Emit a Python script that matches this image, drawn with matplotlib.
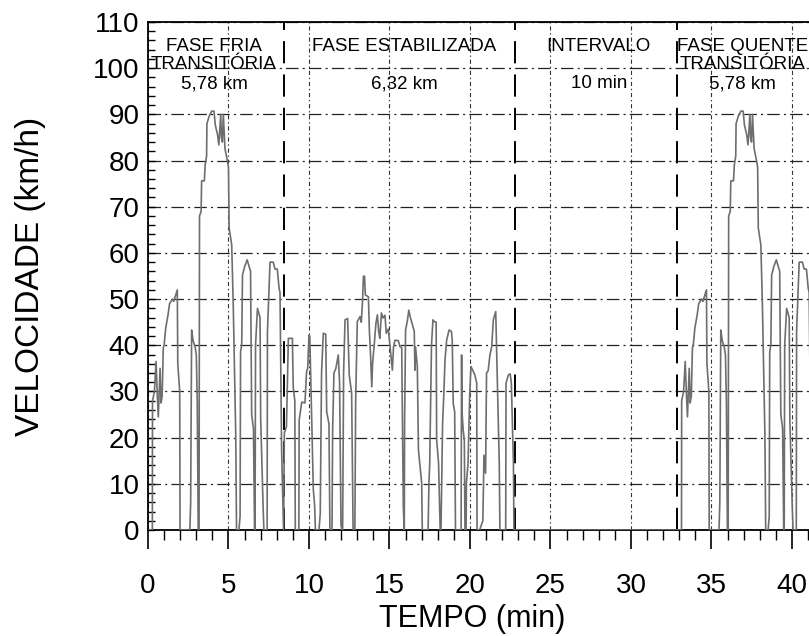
import matplotlib
matplotlib.use('Agg')
import matplotlib.pyplot as plt
from matplotlib.ticker import MultipleLocator

plt.rcParams['font.family'] = ['Liberation Sans', 'DejaVu Sans']
plt.rcParams['lines.scale_dashes'] = False

# velocidade (km/h) x tempo (min) - ciclo FTP-75
fase1_t = [0, 0.27, 0.28, 0.40, 0.50, 0.58, 0.64, 0.75, 0.81, 0.88,
           0.95, 1.00, 1.10, 1.24, 1.34, 1.52, 1.60, 1.82, 1.85, 1.97,
           1.99, 2.60, 2.65, 2.71, 2.80, 2.92, 3.00, 3.06, 3.12, 3.17,
           3.20, 3.30, 3.33, 3.50, 3.55, 3.64, 3.66, 3.80, 3.96, 4.10,
           4.18, 4.32, 4.40, 4.45, 4.52, 4.56, 4.62, 4.68, 4.78, 4.94,
           5.00, 5.04, 5.20, 5.30, 5.45, 5.50, 5.65, 5.72, 5.75, 5.82,
           5.87, 6.00, 6.16, 6.37, 6.44, 6.55, 6.62, 6.65, 6.68, 6.80,
           6.96, 7.00, 7.15, 7.20, 7.40, 7.42, 7.58, 7.78, 7.89, 8.03,
           8.14, 8.20, 8.30, 8.42]
fase1_v = [0, 0, 28, 30, 36.5, 29, 24.5, 35, 27.5, 29,
           39.5, 40, 43.7, 46.5, 49, 50, 49.5, 52, 36, 30,
           0, 0, 6, 43.3, 41, 39.7, 38, 27.7, 0, 0,
           68, 69, 75.6, 75.6, 79, 81, 88, 89.6, 90.7, 90.7,
           87.7, 85.6, 83.4, 86.3, 90, 85, 84, 90, 82.6, 79.8,
           78.5, 65.4, 61.7, 48, 20.6, 0, 0, 3, 38.6, 40,
           55.2, 57, 58.5, 56, 25, 22, 0, 0, 40, 48,
           46, 24, 5, 0, 0, 43, 58, 58, 56.5, 56.5,
           52.4, 51.4, 17.3, 0]

fase2_t = [8.42, 8.47, 8.60, 8.72, 8.97, 9.02, 9.12, 9.15, 9.37, 9.39,
           9.55, 9.75, 9.85, 9.92, 10.00, 10.05, 10.27, 10.35, 10.40, 10.62,
           10.70, 10.78, 10.89, 11.04, 11.10, 11.24, 11.30, 11.43, 11.47, 11.55,
           11.67, 11.82, 11.90, 11.99, 12.06, 12.09, 12.15, 12.24, 12.40, 12.50,
           12.65, 12.74, 12.85, 12.90, 13.00, 13.17, 13.25, 13.33, 13.38, 13.45,
           13.50, 13.69, 13.75, 13.83, 13.90, 13.95, 14.06, 14.16, 14.25, 14.33,
           14.40, 14.50, 14.60, 14.72, 14.80, 14.93, 15.03, 15.10, 15.18, 15.25,
           15.34, 15.55, 15.65, 15.76, 15.86, 15.92, 15.94, 16.00, 16.12, 16.20,
           16.30, 16.54, 16.58, 16.62, 16.73, 16.80, 17.00, 17.04, 17.40, 17.45,
           17.50, 17.61, 17.70, 17.80, 17.90, 17.93, 18.05, 18.15, 18.20, 18.30,
           18.37, 18.45, 18.55, 18.70, 18.85, 18.90, 18.96, 19.05, 19.10, 19.45,
           19.48, 19.50, 19.58, 19.65, 19.69, 19.76, 19.78, 19.88, 19.98, 20.06,
           20.20, 20.30, 20.42, 20.44, 20.60, 20.80, 20.87, 20.97, 21.03, 21.13,
           21.24, 21.35, 21.45, 21.60, 21.82, 21.86, 22.22, 22.24, 22.39, 22.50,
           22.57, 22.70, 22.73, 32.87]
fase2_v = [0, 21, 22.4, 41.5, 41.5, 31, 28, 0, 0, 23.8,
           27.7, 27.5, 34.3, 35, 42.2, 42, 8.7, 5.4, 0, 0,
           3.5, 34, 42.6, 42.4, 25.6, 23, 0, 0, 21.7, 34,
           35, 37.9, 32, 1, 0, 0, 34, 45.5, 45.8, 33.6,
           29.6, 0, 0, 28, 45.1, 46.2, 45, 49.8, 54.9, 55,
           50.9, 50.5, 43.3, 37.5, 31, 36, 40.4, 44.8, 46.6, 43,
           41.5, 47, 45.9, 46.5, 42.6, 43.5, 40, 37.5, 34.6, 39.6,
           41.1, 41, 39.7, 39.5, 5, 0, 23.8, 43.3, 45.5, 47.6,
           46, 43, 34.6, 39.6, 35.4, 17.3, 10.2, 0, 0, 10,
           14.4, 40, 45.5, 45.1, 45, 19.5, 14.4, 0, 0, 23.1,
           28.9, 36.8, 41.1, 43.3, 43, 41, 27.4, 25.6, 0, 0,
           37.9, 26, 21.6, 19.5, 0, 0, 10.2, 14.4, 28.9, 35.4,
           34.4, 33.6, 31.8, 0, 0, 2, 16.2, 12.3, 34, 34.5,
           37.9, 39.7, 45.5, 47.3, 14.4, 0, 0, 31.8, 33.6, 33.8,
           31.8, 14.4, 0, 0]

fase3_t = [32.87, 33.14, 33.15, 33.27, 33.37, 33.45, 33.51, 33.62, 33.68, 33.75,
           33.82, 33.87, 33.97, 34.11, 34.21, 34.39, 34.47, 34.69, 34.72, 34.84,
           34.86, 35.47, 35.52, 35.58, 35.67, 35.79, 35.87, 35.93, 35.99, 36.04,
           36.07, 36.17, 36.20, 36.37, 36.42, 36.51, 36.53, 36.67, 36.83, 36.97,
           37.05, 37.19, 37.27, 37.32, 37.39, 37.43, 37.49, 37.55, 37.65, 37.81,
           37.87, 37.91, 38.07, 38.17, 38.32, 38.37, 38.52, 38.59, 38.62, 38.69,
           38.74, 38.87, 39.03, 39.24, 39.31, 39.42, 39.49, 39.52, 39.55, 39.67,
           39.83, 39.87, 40.02, 40.07, 40.27, 40.29, 40.45, 40.65, 40.76, 40.90,
           41.01, 41.07, 41.17]
fase3_v = [0, 0, 28, 30, 36.5, 29, 24.5, 35, 27.5, 29,
           39.5, 40, 43.7, 46.5, 49, 50, 49.5, 52, 36, 30,
           0, 0, 6, 43.3, 41, 39.7, 38, 27.7, 0, 0,
           68, 69, 75.6, 75.6, 79, 81, 88, 89.6, 90.7, 90.7,
           87.7, 85.6, 83.4, 86.3, 90, 85, 84, 90, 82.6, 79.8,
           78.5, 65.4, 61.7, 48, 20.6, 0, 0, 3, 38.6, 40,
           55.2, 57, 58.5, 56, 25, 22, 0, 0, 40, 48,
           46, 24, 5, 0, 0, 43, 58, 58, 56.5, 56.5,
           52.4, 51.4, 17.3]

# limites entre as fases e rotulos
limites = [8.42, 22.78, 32.87]
rotulos = [
    (4.1, ['FASE FRIA', 'TRANSITÓRIA', '5,78 km']),
    (15.9, ['FASE ESTABILIZADA', '', '6,32 km']),
    (28.0, ['INTERVALO', '', '10 min']),
    (36.95, ['FASE QUENTE', 'TRANSITÓRIA', '5,78 km']),
]
linhas_y = [104.8, 100.9, 96.6]

tempo = fase1_t + fase2_t + fase3_t
vel = fase1_v + fase2_v + fase3_v

fig = plt.figure(figsize=(8.09, 6.36), dpi=100)
ax = fig.add_axes([148 / 809, 1 - 530 / 636, 1 - 148 / 809, 508 / 636])

ax.plot(tempo, vel, color='#6e6e6e', lw=1.2, zorder=3)

ax.set_xlim(0, 41.06)
ax.set_ylim(0, 110)

# grade
ax.yaxis.grid(True, linestyle=(0, (9, 3, 1.5, 3)), color='#222222', lw=0.9)
ax.xaxis.grid(True, linestyle=(0, (3, 2, 1, 2)), color='#333333', lw=0.8)
ax.set_axisbelow(True)

for x in limites:
    ax.axvline(x, color='black', lw=1.4, ls=(0, (16, 8)), zorder=2)

for xc, linhas in rotulos:
    for y, s in zip(linhas_y, linhas):
        if s:
            ax.text(xc, y, s, ha='center', va='center', fontsize=13.5, zorder=4)

# eixos
ax.spines['right'].set_visible(False)
for s in ['left', 'bottom', 'top']:
    ax.spines[s].set_linewidth(1.3)

ax.xaxis.set_major_locator(MultipleLocator(5))
ax.xaxis.set_minor_locator(MultipleLocator(1))
ax.yaxis.set_major_locator(MultipleLocator(10))
ax.yaxis.set_minor_locator(MultipleLocator(2))
ax.tick_params(axis='x', which='major', direction='out', length=14, width=1.2,
               labelsize=20, pad=17)
ax.tick_params(axis='x', which='minor', direction='out', length=7, width=1.0)
ax.tick_params(axis='y', which='major', direction='in', length=5, width=1.0,
               labelsize=20, pad=6)
ax.tick_params(axis='y', which='minor', direction='in', length=5, width=1.0)

ax.set_xlabel('TEMPO (min)', fontsize=22)
ax.set_ylabel('VELOCIDADE (km/h)', fontsize=24)
ax.xaxis.set_label_coords(0.49, -0.145)
ax.yaxis.set_label_coords(-0.155, 0.5)

fig.savefig('out.png', dpi=100)
